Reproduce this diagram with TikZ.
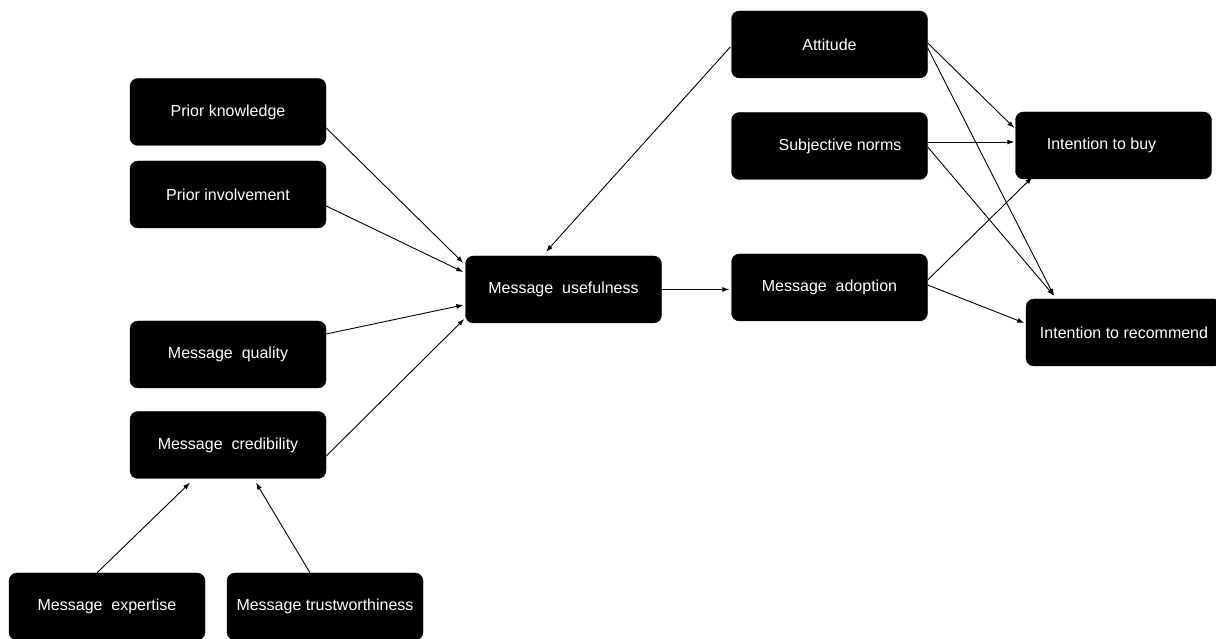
\documentclass[tikz,border=0pt]{standalone}
\usepackage{fontspec}
\setmainfont{Liberation Sans}
\usetikzlibrary{arrows.meta,calc}
\tikzset{
  box/.style={draw=black, fill=black, rounded corners=8pt, minimum width=196pt, minimum height=67pt,
    inner sep=0pt, text=white, font=\fontsize{16}{19}\selectfont, anchor=center},
  conn/.style={draw=black, line width=0.9pt, -{Latex[length=7pt,width=5pt]}}
}
\begin{document}
\begin{tikzpicture}[x=1pt,y=1pt]
\useasboundingbox (0,0) rectangle (1216,639);
\clip (0,0) rectangle (1216,639);
% nodes (y = 639 - image y)
\node[box] (pk) at (228,527) {Prior knowledge};
\node[box] (pi) at (228,444.5) {Prior involvement};
\node[box] (mq) at (228,284.5) {Message\ \ quality};
\node[box] (mc) at (228,194) {Message\ \ credibility};
\node[box] (me) at (107,32.5) {Message\ \ expertise};
\node[box] (mt) at (325,32.5) {Message trustworthiness};
\node[box] (mu) at (563.5,349.5) {Message\ \ usefulness};
\node[box] (ma) at (829.5,351.5) {Message\ \ adoption};
\node[box] (at) at (829.5,594.5) {Attitude};
\node[box] (sn) at (829.5,493) {\hspace*{21pt}Subjective norms};
\node[box] (ib) at (1113.5,493.5) {Intention to buy\hspace*{24pt}};
\node[box] (ir) at (1124,306.5) {Intention to recommend};
% connectors
\draw[conn] ([yshift=-16pt]pk.east) -- ([xshift=-2pt,yshift=26.5pt]mu.west);
\draw[conn] ([yshift=-11.5pt]pi.east) -- ([xshift=-2pt,yshift=17.5pt]mu.west);
\draw[conn] ([yshift=20.5pt]mq.east) -- ([xshift=-2pt,yshift=-15.5pt]mu.west);
\draw[conn] ([yshift=-11pt]mc.east) -- ([xshift=-1pt,yshift=-29.5pt]mu.west);
\draw[conn] ([xshift=-1pt,yshift=-2.5pt]at.west) -- ([xshift=-17.5pt,yshift=4pt]mu.north);
\coordinate (muE) at (mu.east);
\draw[conn] (muE) -- ([xshift=-2pt]ma.west |- muE);
\draw[conn] ([yshift=1.5pt]at.east) -- ([xshift=-1pt,yshift=17.5pt]ib.west);
\draw[conn] ([yshift=-3.5pt]at.east) -- ([xshift=-70pt,yshift=3pt]ir.north);
\coordinate (snE) at ([yshift=4pt]sn.east);
\draw[conn] (snE) -- ([xshift=-1pt]ib.west |- snE);
\draw[conn] ([yshift=-1pt]sn.east) -- ([xshift=-70pt,yshift=3pt]ir.north);
\draw[conn] ([yshift=7.5pt]ma.east) -- ([xshift=17pt,yshift=2pt]ib.south west);
\draw[conn] ([yshift=2.5pt]ma.east) -- ([xshift=-1.5pt,yshift=9.5pt]ir.west);
\draw[conn] ([xshift=-10pt]me.north) -- ([xshift=-38pt,yshift=-4pt]mc.south);
\draw[conn] ([xshift=-15pt]mt.north) -- ([xshift=28pt,yshift=-4pt]mc.south);
\end{tikzpicture}
\end{document}
